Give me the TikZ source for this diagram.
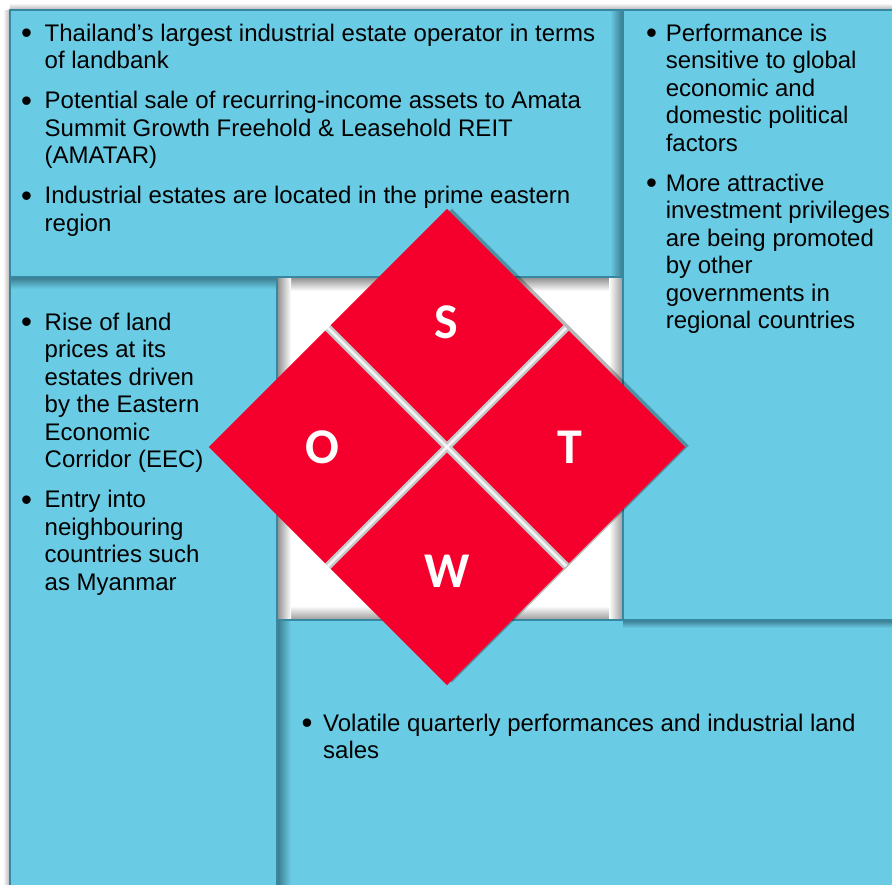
\documentclass[tikz,border=0pt]{standalone}
\usepackage{fontspec}
\setmainfont{Liberation Sans}
\newfontfamily\lettersfont{Carlito}
\definecolor{panelblue}{RGB}{106,204,228}
\definecolor{paneledge}{RGB}{55,135,160}
\definecolor{shadowblue}{RGB}{58,120,140}
\definecolor{swotred}{RGB}{245,0,45}
\definecolor{gapgray}{RGB}{200,200,200}
\tikzset{
  panelfill/.style={fill=panelblue, draw=none},
  paneledge/.style={draw=paneledge, line width=1.2pt},
  bodytext/.style={anchor=base west, inner sep=0pt, font=\fontsize{24}{27.5}\selectfont},
  quadrant/.style={fill=swotred, draw=none},
  letter/.style={text=white, inner sep=0pt, font=\lettersfont\bfseries\fontsize{50}{50}\selectfont},
}
% enlarged bullet in a box of given width
\newcommand\bul[1]{\makebox[#1][l]{\hspace*{-1.3pt}\raisebox{-2.5pt}{\scalebox{1.3}{•}}}}
\begin{document}
\begin{tikzpicture}[x=1pt, y=-1pt]
  \useasboundingbox (0,0) rectangle (892,884);
  \clip (0,0) rectangle (892,884);
  \fill[white] (0,0) rectangle (892,884);

  % soft outer shadow along the left and top of the layout
  \shade[left color=white, right color=black!30] (3,10) rectangle (10,884);
  \shade[top color=white, bottom color=black!30] (10,3) rectangle (892,10);

  % centre square with inner shadows
  \fill[white] (277,277) rectangle (623,620);
  \shade[top color=black!45, bottom color=white] (277,277) rectangle (623,291);
  \shade[top color=white, bottom color=black!40] (277,606) rectangle (623,620);
  \shade[left color=black!45, right color=white] (277,277) rectangle (291,620);
  \shade[left color=white, right color=black!40] (609,277) rectangle (623,620);

  % the four panels
  \fill[panelfill] (277,620) rectangle (900,900);
  \fill[panelfill] (10,277) rectangle (277,900);
  \fill[panelfill] (10,10) rectangle (623,277);
  \fill[panelfill] (623,10) rectangle (900,620);

  % shadows cast from one panel onto the next
  \shade[left color=shadowblue, right color=panelblue] (277,620) rectangle (291,900);
  \shade[top color=shadowblue, bottom color=panelblue] (10,277) rectangle (277,289);
  \shade[left color=panelblue, right color=shadowblue] (610,10) rectangle (623,277);
  \shade[top color=shadowblue, bottom color=panelblue] (623,620) rectangle (900,628);

  % panel outlines
  \draw[paneledge] (277,620) rectangle (900,900);
  \draw[paneledge] (10,277) rectangle (277,900);
  \draw[paneledge] (10,10) rectangle (623,277);
  \draw[paneledge] (623,10) rectangle (900,620);

  % strengths
  \node[bodytext] (strengths) at (22.3,41) {\begin{tabular}[t]{@{}l@{}l@{}}
    \bul{22.2pt} & Thailand’s largest industrial estate operator in terms\\
                 & of landbank\\[12.5pt]
    \bul{22.2pt} & Potential sale of recurring-income assets to Amata\\
                 & Summit Growth Freehold \& Leasehold REIT\\
                 & (AMATAR)\\[12.5pt]
    \bul{22.2pt} & Industrial estates are located in the prime eastern\\
                 & region
  \end{tabular}};

  % threats
  \node[bodytext] (threats) at (647.1,41) {\begin{tabular}[t]{@{}l@{}l@{}}
    \bul{18.5pt} & Performance is\\
                 & sensitive to global\\
                 & economic and\\
                 & domestic political\\
                 & factors\\[12.5pt]
    \bul{18.5pt} & More attractive\\
                 & investment privileges\\
                 & are being promoted\\
                 & by other\\
                 & governments in\\
                 & regional countries
  \end{tabular}};

  % opportunities
  \node[bodytext] (opportunities) at (22.3,330) {\begin{tabular}[t]{@{}l@{}l@{}}
    \bul{22.2pt} & Rise of land\\
                 & prices at its\\
                 & estates driven\\
                 & by the Eastern\\
                 & Economic\\
                 & Corridor (EEC)\\[12.5pt]
    \bul{22.2pt} & Entry into\\
                 & neighbouring\\
                 & countries such\\
                 & as Myanmar
  \end{tabular}};

  % weaknesses
  \node[bodytext] (weaknesses) at (302.8,731) {\begin{tabular}[t]{@{}l@{}l@{}}
    \bul{20.2pt} & Volatile quarterly performances and industrial land\\
                 & sales
  \end{tabular}};

  % SWOT diamond, built in a frame turned by 45 degrees
  \begin{scope}[shift={(447,447)}, rotate=45]
    \fill[black, opacity=0.28] (-166,-166) ++(3,1) rectangle ++(335,335);
    \fill[gapgray] (-168.3,-4.5) rectangle (168.3,4.5);
    \fill[gapgray] (-4.5,-168.3) rectangle (4.5,168.3);
    \draw[white, line width=2.5pt, opacity=0.8] (-168.3,0) -- (168.3,0);
    \draw[white, line width=2.5pt, opacity=0.8] (0,-168.3) -- (0,168.3);
    \fill[quadrant] (4,4) rectangle (168.3,168.3);
    \fill[quadrant] (-4,4) rectangle (-168.3,168.3);
    \fill[quadrant] (-4,-4) rectangle (-168.3,-168.3);
    \fill[quadrant] (4,-4) rectangle (168.3,-168.3);
  \end{scope}

  \node[letter] (S) at (446,322) {S};
  \node[letter] (O) at (322,447) {O};
  \node[letter] (T) at (570,447) {T};
  \node[letter] (W) at (447,571) {W};
\end{tikzpicture}
\end{document}
